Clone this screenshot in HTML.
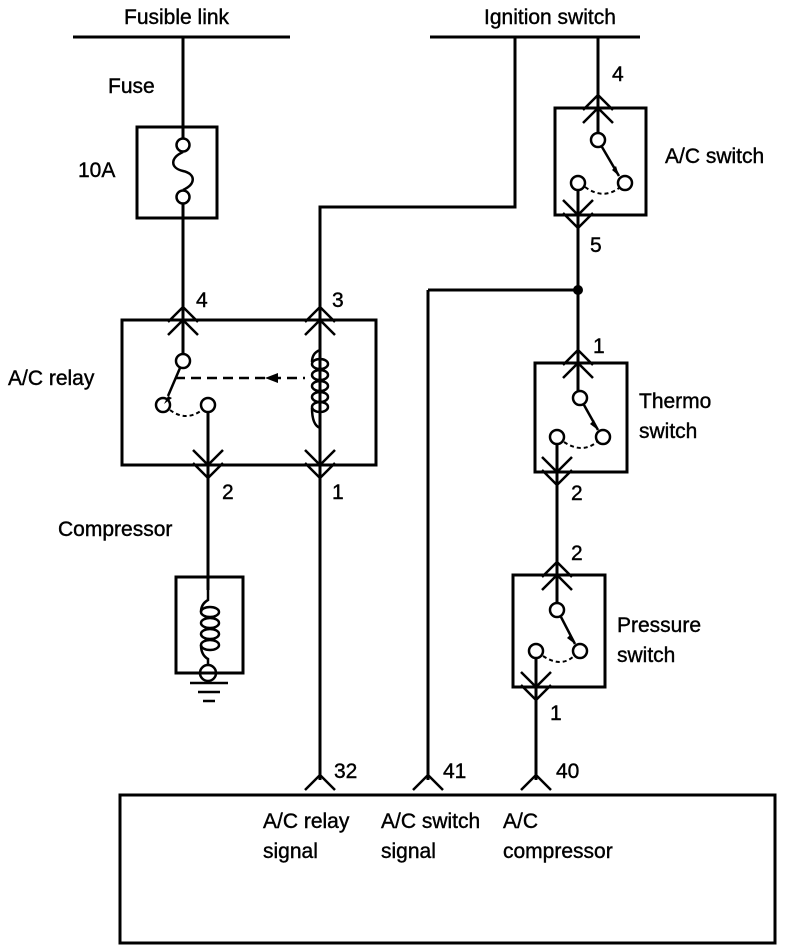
<!DOCTYPE html>
<html><head><meta charset="utf-8"><style>
html,body{margin:0;padding:0;background:#fff;}
svg{display:block;}
text{font-family:"Liberation Sans",Arial,sans-serif;font-size:21px;fill:#000;stroke:#000;stroke-width:0.4;}
</style></head><body>
<svg width="800" height="950" viewBox="0 0 800 950" xmlns="http://www.w3.org/2000/svg">
<defs>
<g id="up" fill="none" stroke="#000" stroke-width="2.5"><path d="M-15,2 L0,-13 L15,2 M-15,15 L0,0 L15,15"/></g>
<g id="dn" fill="none" stroke="#000" stroke-width="2.5"><path d="M-15,-2 L0,13 L15,-2 M-15,-15 L0,0 L15,-15"/></g>
<g id="ecu" fill="none" stroke="#000" stroke-width="2.5"><path d="M-15,15 L0,0 L15,15"/></g>
</defs>
<g fill="none" stroke="#000" stroke-width="3">
<line x1="73" y1="37" x2="290" y2="37"/>
<line x1="430" y1="37" x2="640" y2="37"/>
<line x1="183" y1="37" x2="183" y2="138"/>
<rect x="137" y="127" width="80" height="91"/>
<circle cx="183" cy="145" r="6.5" stroke-width="2.5"/>
<circle cx="183" cy="197" r="6.5" stroke-width="2.5"/>
<path d="M183,152 C170,158 170,168 183,171 C196,174 196,184 183,190" stroke-width="2.5"/>
<line x1="183" y1="204" x2="183" y2="354"/>
<polyline points="515,37 515,207 320,207 320,780"/>
<rect x="122" y="320" width="254" height="145"/>
<circle cx="183" cy="361" r="7" stroke-width="2.5"/>
<circle cx="163" cy="405" r="7" stroke-width="2.5"/>
<circle cx="208" cy="405" r="7" stroke-width="2.5"/>
<line x1="180" y1="368" x2="168" y2="396" stroke-width="2.5"/>
<path d="M170,410 Q186,422 202,410" stroke-width="2" stroke-dasharray="4,3"/>
<line x1="175" y1="378" x2="305" y2="378" stroke-width="2.5" stroke-dasharray="10,6"/>
<line x1="208" y1="412" x2="208" y2="590"/>
<rect x="176" y="577" width="67" height="96"/>
<line x1="428" y1="290" x2="578" y2="290"/>
<line x1="428" y1="290" x2="428" y2="780"/>
<line x1="598" y1="37" x2="598" y2="133"/>
<rect x="555" y="108" width="91" height="107"/>
<line x1="578" y1="190" x2="578" y2="391"/>
<rect x="535" y="363" width="92" height="109"/>
<line x1="557" y1="444" x2="557" y2="603"/>
<rect x="513" y="575" width="92" height="112"/>
<line x1="536" y1="658" x2="536" y2="780"/>
<rect x="120" y="795" width="655" height="148"/>
</g>
<g fill="none" stroke="#000" stroke-width="2.5">
<!-- relay coil -->
<path d="M320,335 L320,350 Q312,353 312,362 M312,408 Q312,425 320,428 L320,470"/>
<ellipse cx="320" cy="364" rx="8" ry="5"/>
<ellipse cx="320" cy="375" rx="8" ry="5"/>
<ellipse cx="320" cy="386" rx="8" ry="5"/>
<ellipse cx="320" cy="397" rx="8" ry="5"/>
<ellipse cx="320" cy="407" rx="8" ry="5"/>
<!-- compressor coil -->
<path d="M208,590 L208,600 Q201,604 201,612 M201,645 Q201,655 208,659 L208,666"/>
<ellipse cx="210" cy="612" rx="9" ry="5"/>
<ellipse cx="210" cy="623" rx="9" ry="5"/>
<ellipse cx="210" cy="634" rx="9" ry="5"/>
<ellipse cx="210" cy="645" rx="9" ry="5"/>
<circle cx="208" cy="673" r="8"/>
<line x1="190" y1="683" x2="228" y2="683"/>
<line x1="198" y1="692" x2="220" y2="692"/>
<line x1="203" y1="701" x2="215" y2="701"/>
<!-- A/C switch -->
<circle cx="598" cy="140" r="7"/>
<circle cx="625" cy="183" r="7"/>
<circle cx="578" cy="183" r="7"/>
<line x1="602" y1="147" x2="619" y2="176"/>
<path d="M585,187 Q603,200 619,188" stroke-width="2" stroke-dasharray="4,3"/>
<!-- thermo -->
<circle cx="580" cy="398" r="7"/>
<circle cx="603" cy="437" r="7"/>
<circle cx="557" cy="437" r="7"/>
<line x1="584" y1="405" x2="598" y2="430"/>
<path d="M564,442 Q582,454 597,442" stroke-width="2" stroke-dasharray="4,3"/>
<!-- pressure -->
<circle cx="557" cy="610" r="7"/>
<circle cx="580" cy="651" r="7"/>
<circle cx="536" cy="651" r="7"/>
<line x1="561" y1="617" x2="575" y2="644"/>
<path d="M543,656 Q561,668 574,656" stroke-width="2" stroke-dasharray="4,3"/>
</g>
<circle cx="578" cy="290" r="5" fill="#000"/>
<polygon points="168,396 164,404 172,398" fill="#000"/>
<polygon points="619,176 612,170 616,166" fill="#000"/>
<polygon points="598,430 590,424 594,420" fill="#000"/>
<polygon points="575,644 567,638 571,634" fill="#000"/>
<polygon points="265,378 278,373 278,383" fill="#000"/>
<use href="#up" x="183" y="320"/>
<use href="#up" x="320" y="320"/>
<use href="#dn" x="208" y="465"/>
<use href="#dn" x="320" y="465"/>
<use href="#up" x="598" y="108"/>
<use href="#dn" x="578" y="215"/>
<use href="#up" x="578" y="363"/>
<use href="#dn" x="557" y="472"/>
<use href="#up" x="557" y="575"/>
<use href="#dn" x="536" y="687"/>
<use href="#ecu" x="320" y="775"/>
<use href="#ecu" x="428" y="775"/>
<use href="#ecu" x="536" y="775"/>
<text x="124" y="24">Fusible link</text>
<text x="484" y="24">Ignition switch</text>
<text x="108" y="93">Fuse</text>
<text x="78" y="177">10A</text>
<text x="196" y="307">4</text>
<text x="332" y="307">3</text>
<text x="8" y="385">A/C relay</text>
<text x="222" y="499">2</text>
<text x="332" y="499">1</text>
<text x="58" y="536">Compressor</text>
<text x="612" y="81">4</text>
<text x="665" y="163">A/C switch</text>
<text x="590" y="252">5</text>
<text x="593" y="353">1</text>
<text x="639" y="408">Thermo</text>
<text x="639" y="438">switch</text>
<text x="571" y="500">2</text>
<text x="571" y="560">2</text>
<text x="617" y="632">Pressure</text>
<text x="617" y="662">switch</text>
<text x="550" y="720">1</text>
<text x="334" y="778">32</text>
<text x="443" y="778">41</text>
<text x="556" y="778">40</text>
<text x="263" y="828">A/C relay</text>
<text x="263" y="858">signal</text>
<text x="381" y="828">A/C switch</text>
<text x="381" y="858">signal</text>
<text x="503" y="828">A/C</text>
<text x="503" y="858">compressor</text>
</svg>
</body></html>
